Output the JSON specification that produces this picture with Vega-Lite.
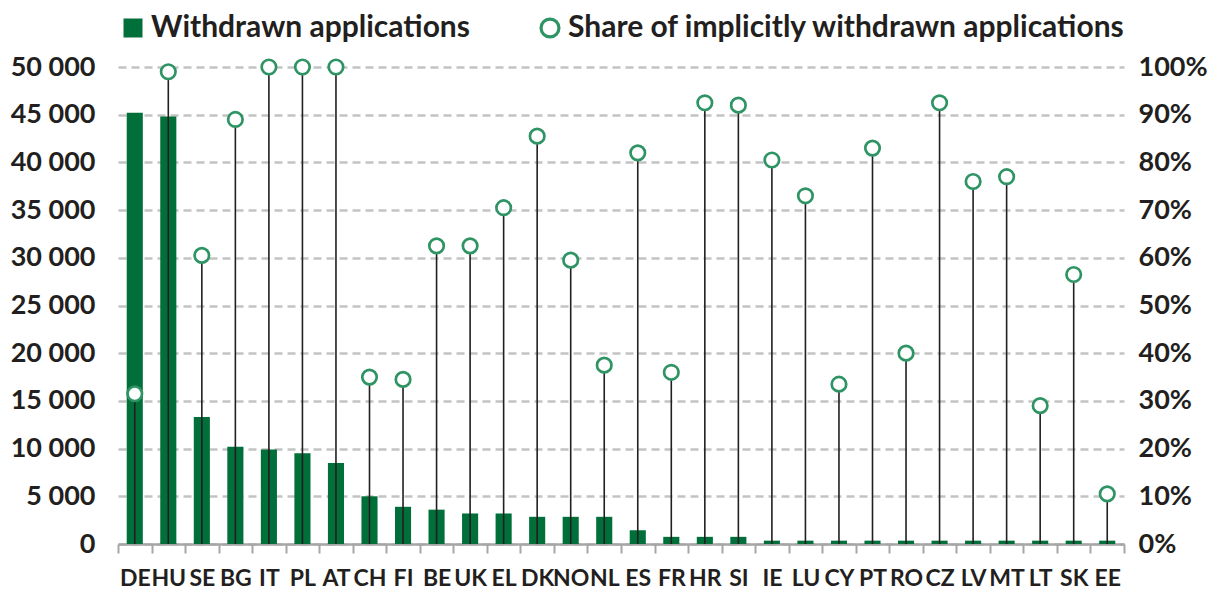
{
  "$schema": "https://vega.github.io/schema/vega-lite/v6.json",
  "width": 1006,
  "height": 477,
  "autosize": {"type": "none"},
  "padding": {"left": 118, "top": 67, "right": 87, "bottom": 46},
  "background": "white",
  "config": {
    "font": "Lato",
    "view": {"stroke": null},
    "legend": {"layout": {"top": {"margin": 65, "direction": "horizontal", "anchor": "start"}}}
  },
  "data": {
    "values": [
      {"country": "DE", "withdrawn": 45200, "share": 0.315},
      {"country": "HU", "withdrawn": 44800, "share": 0.99},
      {"country": "SE", "withdrawn": 13300, "share": 0.605},
      {"country": "BG", "withdrawn": 10200, "share": 0.89},
      {"country": "IT", "withdrawn": 9900, "share": 1.0},
      {"country": "PL", "withdrawn": 9500, "share": 1.0},
      {"country": "AT", "withdrawn": 8500, "share": 1.0},
      {"country": "CH", "withdrawn": 5000, "share": 0.35},
      {"country": "FI", "withdrawn": 3900, "share": 0.345},
      {"country": "BE", "withdrawn": 3600, "share": 0.625},
      {"country": "UK", "withdrawn": 3200, "share": 0.625},
      {"country": "EL", "withdrawn": 3200, "share": 0.705},
      {"country": "DK", "withdrawn": 2850, "share": 0.855},
      {"country": "NO", "withdrawn": 2850, "share": 0.595},
      {"country": "NL", "withdrawn": 2850, "share": 0.375},
      {"country": "ES", "withdrawn": 1450, "share": 0.82},
      {"country": "FR", "withdrawn": 750, "share": 0.36},
      {"country": "HR", "withdrawn": 750, "share": 0.925},
      {"country": "SI", "withdrawn": 750, "share": 0.92},
      {"country": "IE", "withdrawn": 350, "share": 0.805},
      {"country": "LU", "withdrawn": 350, "share": 0.73},
      {"country": "CY", "withdrawn": 350, "share": 0.335},
      {"country": "PT", "withdrawn": 350, "share": 0.83},
      {"country": "RO", "withdrawn": 350, "share": 0.40},
      {"country": "CZ", "withdrawn": 350, "share": 0.925},
      {"country": "LV", "withdrawn": 350, "share": 0.76},
      {"country": "MT", "withdrawn": 350, "share": 0.77},
      {"country": "LT", "withdrawn": 350, "share": 0.29},
      {"country": "SK", "withdrawn": 350, "share": 0.565},
      {"country": "EE", "withdrawn": 350, "share": 0.105}
    ]
  },
  "layer": [
    {
      "mark": {"type": "bar", "width": {"band": 0.48}},
      "encoding": {
        "x": {
          "field": "country", "type": "nominal", "sort": null,
          "scale": {"paddingInner": 0, "paddingOuter": 0},
          "axis": {
            "title": null, "labelAngle": 0, "labelOverlap": false,
            "labelFont": "Lato", "labelFontSize": 23, "labelFontWeight": "bold", "labelColor": "#231f20",
            "labelPadding": 14, "tickBand": "extent", "tickSize": 9, "tickWidth": 2, "tickColor": "#a6a6a6",
            "domainColor": "#a6a6a6", "domainWidth": 2.5, "grid": false
          }
        },
        "y": {
          "field": "withdrawn", "type": "quantitative",
          "scale": {"domain": [0, 50000], "nice": false},
          "axis": {
            "title": null, "orient": "left",
            "values": [0, 5000, 10000, 15000, 20000, 25000, 30000, 35000, 40000, 45000, 50000],
            "labelExpr": "replace(format(datum.value, ','), ',', ' ')",
            "labelFont": "Lato", "labelFontSize": 27, "labelFontWeight": "bold", "labelColor": "#231f20",
            "labelPadding": 23, "ticks": false, "domain": false,
            "grid": true, "gridDash": [8, 5], "gridColor": "#c3c3c3", "gridWidth": 2.5
          }
        },
        "fill": {
          "datum": "Withdrawn applications",
          "scale": {"domain": ["Withdrawn applications"], "range": ["#006f3a"]},
          "legend": {
            "title": null, "orient": "top", "direction": "horizontal", "symbolType": "square",
            "labelFont": "Lato", "labelFontSize": 30, "labelFontWeight": "bold", "labelColor": "#231f20",
            "labelLimit": 0, "labelOffset": 3, "offset": 23, "padding": 0,
            "symbolSize": 361, "symbolStrokeWidth": 0, "symbolOpacity": 1
          }
        }
      }
    },
    {
      "layer": [
        {
          "mark": {"type": "rule", "color": "#231f20", "strokeWidth": 1.6},
          "encoding": {
            "x": {"field": "country", "type": "nominal", "sort": null},
            "y": {
              "field": "share", "type": "quantitative",
              "scale": {"domain": [0, 1], "nice": false},
              "axis": {
                "title": null, "orient": "right", "format": ".0%",
                "values": [0, 0.1, 0.2, 0.3, 0.4, 0.5, 0.6, 0.7, 0.8, 0.9, 1.0],
                "labelFont": "Lato", "labelFontSize": 27, "labelFontWeight": "bold", "labelColor": "#231f20",
                "labelPadding": 14, "ticks": false, "domain": false, "grid": false
              }
            },
            "y2": {"datum": 0}
          }
        },
        {
          "mark": {"type": "point", "shape": "circle", "filled": false, "fill": "white", "size": 210, "strokeWidth": 2.7, "opacity": 1},
          "encoding": {
            "x": {"field": "country", "type": "nominal", "sort": null},
            "y": {"field": "share", "type": "quantitative"},
            "stroke": {
              "datum": "Share of implicitly withdrawn applications",
              "scale": {"domain": ["Share of implicitly withdrawn applications"], "range": ["#2f9464"]},
              "legend": {
                "title": null, "orient": "top", "direction": "horizontal", "symbolType": "circle",
                "labelFont": "Lato", "labelFontSize": 30, "labelFontWeight": "bold", "labelColor": "#231f20",
                "labelLimit": 0, "labelOffset": 3, "offset": 23, "padding": 0,
                "symbolSize": 320, "symbolStrokeWidth": 3.2, "symbolFillColor": "white", "symbolOpacity": 1
              }
            }
          }
        }
      ]
    }
  ],
  "resolve": {"scale": {"y": "independent"}}
}
